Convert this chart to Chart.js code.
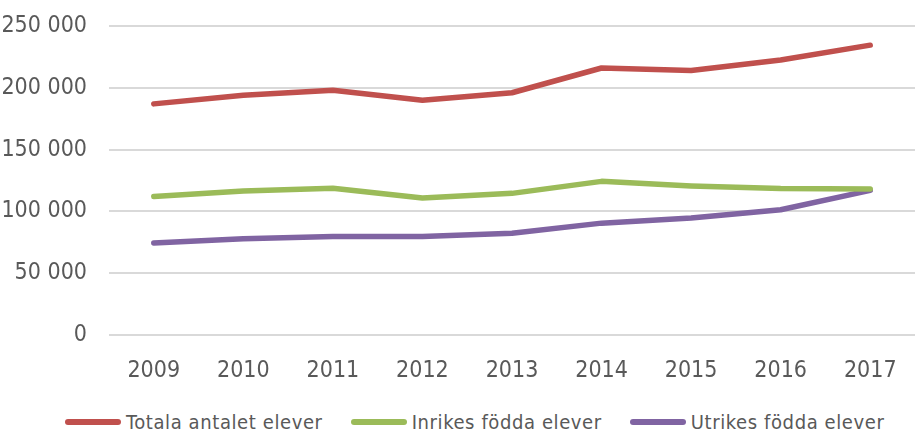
<!DOCTYPE html>
<html>
<head>
<meta charset="utf-8">
<script src="https://cdn.jsdelivr.net/npm/chart.js@4"></script>
<style>
  html, body { margin: 0; padding: 0; background: #ffffff; }
  #page { position: relative; width: 915px; height: 432px; }
  #wrap { position: absolute; left: 0; top: 0; width: 915px; height: 400px; }
  #legend { position: absolute; left: 65px; top: 410px; height: 24px; display: flex; align-items: center;
            font-family: 'Liberation Sans Narrow', 'DejaVu Sans Condensed', 'Liberation Sans', sans-serif;
            font-size: 20px; letter-spacing: 0.6px; color: #595959; white-space: nowrap; }
  #legend .item { display: flex; align-items: center; margin-right: 28px; }
  #legend .swatch { width: 56px; height: 6px; border-radius: 3px; margin-right: 5px; }
</style>
</head>
<body>
<div id="page">
  <div id="wrap"><canvas id="chartjs-0"></canvas></div>
  <div id="legend"></div>
</div>
<script>
var years = ["2009", "2010", "2011", "2012", "2013", "2014", "2015", "2016", "2017"];
var totala = [187000, 194000, 198000, 190000, 196000, 216000, 214000, 222500, 234500];
var inrikes = [112000, 116500, 118700, 110800, 114600, 124300, 120600, 118500, 118200];
var utrikes = [74500, 77800, 79600, 79600, 82300, 90500, 94600, 101300, 117000];
var seriesNames = ["Totala antalet elever", "Inrikes födda elever", "Utrikes födda elever"];
var seriesColors = ["#C0504D", "#9BBB59", "#8064A2"];

var fontFam = "'Liberation Sans Narrow', 'DejaVu Sans Condensed', 'Liberation Sans', sans-serif";

function fmt(v) {
    return String(v).replace(/\B(?=(\d{3})+(?!\d))/g, " ");
}

function makeSet(i, values) {
    return {
        label: seriesNames[i],
        data: values,
        borderColor: seriesColors[i],
        backgroundColor: seriesColors[i],
        borderWidth: 5.5,
        borderCapStyle: "round",
        borderJoinStyle: "round",
        pointRadius: 0,
        pointHoverRadius: 0,
        fill: false,
        tension: 0
    };
}

// legend built from the chart's own datasets
var htmlLegend = {
    id: "htmlLegend",
    afterUpdate: function (chart) {
        var box = document.getElementById("legend");
        box.innerHTML = "";
        chart.data.datasets.forEach(function (ds) {
            var item = document.createElement("div");
            item.className = "item";
            var sw = document.createElement("span");
            sw.className = "swatch";
            sw.style.background = ds.borderColor;
            var txt = document.createElement("span");
            txt.textContent = ds.label;
            item.appendChild(sw);
            item.appendChild(txt);
            box.appendChild(item);
        });
    }
};

var ctx0 = document.getElementById("chartjs-0");
var myChart = new Chart(ctx0, {
    type: "line",
    data: {
        labels: years,
        datasets: [makeSet(0, totala), makeSet(1, inrikes), makeSet(2, utrikes)]
    },
    plugins: [htmlLegend],
    options: {
        responsive: true,
        maintainAspectRatio: false,
        animation: false,
        layout: { padding: { top: 0, right: -6, left: 0, bottom: 0 } },
        plugins: {
            tooltip: { enabled: false },
            legend: { display: false }
        },
        scales: {
            x: {
                offset: true,
                grid: { display: false, drawTicks: false },
                border: { display: false },
                ticks: {
                    color: "#595959",
                    padding: 22,
                    maxRotation: 0,
                    font: { family: fontFam, size: 23 }
                },
                afterFit: function (s) {
                    s.height = 65;
                    s.paddingLeft = 0;
                    s.paddingRight = 0;
                }
            },
            y: {
                min: 0,
                max: 250000,
                grid: { color: "#D9D9D9", lineWidth: 2, drawTicks: false },
                border: { display: false },
                ticks: {
                    stepSize: 50000,
                    color: "#595959",
                    padding: 22,
                    font: { family: fontFam, size: 23 },
                    callback: function (v) { return fmt(v); }
                },
                afterFit: function (s) {
                    s.width = 109;
                    s.paddingTop = 26;
                    s.paddingBottom = 0;
                }
            }
        }
    }
});
</script>
</body>
</html>
